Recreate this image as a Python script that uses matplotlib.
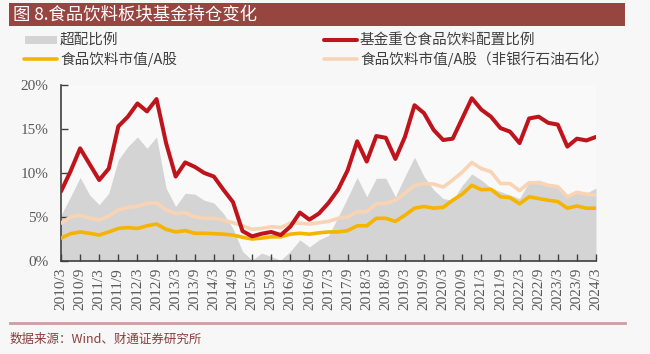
import matplotlib
matplotlib.use('Agg')
import matplotlib.pyplot as plt
from matplotlib.lines import Line2D
from matplotlib.patches import Rectangle
import numpy as np

plt.rcParams['font.family'] = ['Noto Sans CJK SC', 'DejaVu Sans']

# quarterly, 2010/3 .. 2024/3
years = list(range(2010, 2025))
quarters = []
for y in years:
	for m in (3, 6, 9, 12):
		if y == 2024 and m > 3:
			break
		quarters.append('%d/%d' % (y, m))

# 超配比例 (%)
overweight = [5.2, 7.3, 9.5, 7.5, 6.4, 7.7, 11.5, 13.0, 14.1, 12.8,
	14.1, 8.3, 6.2, 7.7, 7.6, 6.9, 6.6, 5.4, 3.7, 1.1,
	0.1, 0.9, 0.5, 0.1, 1.1, 2.4, 1.6, 2.4, 2.9, 5.0,
	7.2, 9.5, 7.3, 9.4, 9.4, 7.3, 9.6, 11.8, 9.6, 8.1,
	7.1, 6.9, 8.6, 9.9, 9.2, 8.3, 7.9, 7.5, 7.1, 9.0,
	9.2, 8.8, 8.6, 7.4, 7.7, 7.7, 8.3]

# 基金重仓食品饮料配置比例 (%)
fund_weight = [7.9, 10.2, 12.8, 11.0, 9.2, 10.5, 15.3, 16.4, 17.9, 17.0,
	18.4, 13.4, 9.6, 11.2, 10.7, 10.0, 9.6, 8.1, 6.7, 3.4,
	2.8, 3.1, 3.3, 2.95, 3.9, 5.5, 4.7, 5.4, 6.6, 8.1,
	10.3, 13.6, 11.3, 14.2, 14.0, 11.6, 14.1, 17.7, 16.8, 14.9,
	13.75, 13.9, 16.2, 18.5, 17.2, 16.4, 15.1, 14.7, 13.4, 16.2,
	16.4, 15.7, 15.5, 13.0, 13.9, 13.7, 14.1]

# 食品饮料市值/A股 (%)
mv_share = [2.6, 3.1, 3.3, 3.15, 2.95, 3.3, 3.7, 3.8, 3.7, 4.0,
	4.2, 3.6, 3.3, 3.45, 3.15, 3.15, 3.1, 3.05, 2.95, 2.7,
	2.5, 2.6, 2.75, 2.75, 3.05, 3.15, 3.05, 3.2, 3.3, 3.3,
	3.45, 4.0, 4.0, 4.85, 4.85, 4.5, 5.2, 6.0, 6.2, 6.0,
	6.1, 6.9, 7.6, 8.6, 8.1, 8.15, 7.3, 7.2, 6.5, 7.3,
	7.1, 6.9, 6.75, 6.0, 6.25, 6.0, 6.0]

# 食品饮料市值/A股（非银行石油石化） (%)
mv_share_ex = [4.3, 5.0, 5.2, 4.85, 4.65, 5.1, 5.8, 6.1, 6.2, 6.55,
	6.6, 5.8, 5.4, 5.5, 5.0, 4.85, 4.85, 4.65, 4.35, 4.0,
	3.6, 3.7, 3.9, 3.8, 4.3, 4.3, 4.2, 4.35, 4.5, 4.85,
	5.0, 5.6, 5.6, 6.5, 6.55, 6.9, 7.7, 8.6, 8.8, 8.75,
	8.4, 9.2, 10.1, 11.2, 10.5, 10.15, 8.8, 8.8, 8.0, 8.9,
	8.9, 8.6, 8.45, 7.3, 7.8, 7.6, 7.5]

C_GRAY = '#d4d4d4'
C_RED = '#c0141c'
C_ORANGE = '#f5b400'
C_BEIGE = '#f8d4b4'
BG = '#f7f7f7'

fig = plt.figure(figsize=(6.5, 3.54), dpi=100, facecolor=BG)
ax = fig.add_axes([61/650, 1-261/354, 535/650, 176/354], facecolor='#f9f9f9')

x = np.arange(len(quarters))
ax.fill_between(x, 0, overweight, color=C_GRAY, lw=0, zorder=1)
ax.plot(x, mv_share, color=C_ORANGE, lw=2.6, solid_joinstyle='round', solid_capstyle='round', zorder=3)
ax.plot(x, mv_share_ex, color=C_BEIGE, lw=2.6, solid_joinstyle='round', solid_capstyle='round', zorder=3)
ax.plot(x, fund_weight, color=C_RED, lw=2.9, solid_joinstyle='round', solid_capstyle='round', zorder=4)

ax.set_xlim(0, len(quarters)-1)
ax.set_ylim(0, 20)
ax.set_yticks([0, 5, 10, 15, 20])
ax.set_yticklabels(['0%', '5%', '10%', '15%', '20%'], family='Liberation Serif', fontsize=11, color='#595959')
ax.set_xticks(x[::2])
ax.set_xticklabels(quarters[::2], rotation=90, family='Liberation Serif', fontsize=11, color='#595959')
ax.tick_params(axis='y', direction='in', length=5, width=1, color='#404040', pad=9)
ax.tick_params(axis='x', direction='in', length=5, width=1, color='#404040', pad=5)
for s in ('top', 'right'):
	ax.spines[s].set_visible(False)
for s in ('left', 'bottom'):
	ax.spines[s].set_color('#404040')
	ax.spines[s].set_linewidth(1.2)

# title banner
fig.add_artist(Rectangle((9/650, 1-26/354), 616/650, 23/354, transform=fig.transFigure,
	facecolor='#974541', edgecolor='none'))
fig.text(13/650, 1-15/354, '图 8.食品饮料板块基金持仓变化', color='white', fontsize=12.5,
	va='center', ha='left')

# legend
def leg_line(x0, x1, y, color, lw):
	fig.add_artist(Line2D([x0/650, x1/650], [1-y/354, 1-y/354], transform=fig.transFigure,
		color=color, lw=lw, solid_capstyle='round'))

fig.add_artist(Rectangle((25/650, 1-44/354), 32/650, 8/354, transform=fig.transFigure,
	facecolor=C_GRAY, edgecolor='none'))
fig.text(60/650, 1-40/354, '超配比例', fontsize=10.5, color='#404040', va='center')
leg_line(324, 357, 40, C_RED, 2.9)
fig.text(360/650, 1-40/354, '基金重仓食品饮料配置比例', fontsize=10.5, color='#404040', va='center')
leg_line(24, 57, 59, C_ORANGE, 2.6)
fig.text(60/650, 1-59/354, '食品饮料市值/A股', fontsize=10.5, color='#404040', va='center')
leg_line(324, 357, 59, C_BEIGE, 2.6)
fig.text(360/650, 1-59/354, '食品饮料市值/A股（非银行石油石化）', fontsize=10.5, color='#404040', va='center')

# bottom rule and source
fig.add_artist(Line2D([10/650, 625/650], [1-323/354, 1-323/354], transform=fig.transFigure,
	color='#c9a09e', lw=2))
fig.text(10/650, 1-339/354, '数据来源：Wind、财通证券研究所', fontsize=9, color='#8c3d3d', va='center')

fig.savefig('out.png', dpi=100, facecolor=BG)
